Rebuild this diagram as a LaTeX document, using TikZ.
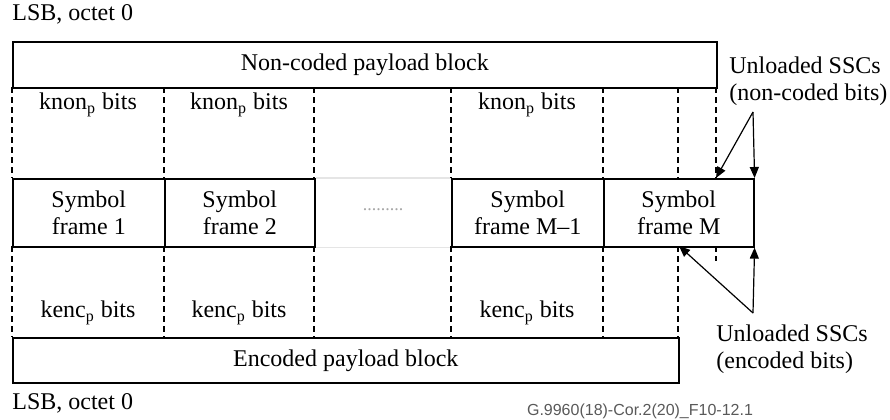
\documentclass[tikz,border=0pt]{standalone}
\usepackage{fontspec}
\setmainfont{Liberation Serif}
\newfontfamily\credfont{Liberation Sans}
\usetikzlibrary{arrows.meta, positioning}
\tikzset{
  blk/.style={draw, line width=0.8pt, inner sep=0pt, anchor=north west, align=center},
  sepline/.style={dash pattern=on 3pt off 2pt, line width=0.6pt},
  arr/.style={line width=0.6pt, -{Triangle[length=5.5pt,width=4.5pt]}},
  lbl/.style={inner sep=0pt, align=left}
}
\begin{document}
\begin{tikzpicture}[x=0.5pt, y=-0.5pt, font=\fontsize{12}{13.5}\selectfont]
        \useasboundingbox (0,0) rectangle (890,419);
        % Payload blocks
        \node[blk, minimum width=352pt, minimum height=23pt] (ncblk) at (12,41) {Non-coded payload block};
        \node[blk, minimum width=333pt, minimum height=22.5pt] (encblk) at (12,337) {Encoded payload block};
        % Symbol frames
        \node[blk, minimum width=76pt, minimum height=34pt] (sf1) at (12,178) {Symbol\\frame 1};
        \node[blk, minimum width=75pt, minimum height=34pt] (sf2) at (164,178) {Symbol\\frame 2};
        \node[blk, minimum width=76pt, minimum height=34pt] (sfm1) at (451,178) {Symbol\\frame M\textendash 1};
        \node[blk, minimum width=75pt, minimum height=34pt] (sfm) at (603,178) {Symbol\\frame M};
        % Gap between frames
        \draw[gray!20, line width=0.6pt] (sf2.north east) -- (sfm1.north west)
              (sf2.south east) -- (sfm1.south west);
        \node[font=\fontsize{9}{10}\selectfont, gray!70] (dots) at (383,210) {.........};
        % Bit boundaries
        \foreach \x in {12,164,314,451,603,678,716}
          \draw[sepline] (\x,87) -- (\x,178);
        \foreach \x in {12,164,314,451,603,678}
          \draw[sepline] (\x,246) -- (\x,337);
        \draw[sepline] (716,246) -- (716,261);
        % Bit labels
        \foreach \x/\n in {88/a,239/b,527/c} {
          \node[lbl] (knon\n) at (\x,105) {knon\textsubscript{p} bits};
          \node[lbl] (kenc\n) at (\x,313) {kenc\textsubscript{p} bits};
        }
        % LSB labels
        \node[lbl, anchor=west] (lsbtop) at (12,14) {LSB, octet 0};
        \node[lbl, anchor=west] (lsbbot) at (12,403) {LSB, octet 0};
        % Unloaded SSCs
        \node[lbl, anchor=north west] (ssctop) at (729,56) {Unloaded SSCs\\(non-coded bits)};
        \node[lbl, anchor=north west] (sscbot) at (716,324) {Unloaded SSCs\\(encoded bits)};
        \coordinate (atop) at (753,112);
        \coordinate (abot) at (753,313);
        \coordinate (tnc) at (716,178);
        \coordinate (tenc) at (679,246);
        \draw[arr] (atop) -- (tnc);
        \draw[arr] (atop) -- (sfm.north east);
        \draw[arr] (abot) -- (tenc);
        \draw[arr] (abot) -- (sfm.south east);
        % Figure reference
        \node[lbl, font=\credfont\fontsize{8}{9}\selectfont, gray!70!black] (figref) at (640,411) {G.9960(18)-Cor.2(20)\_F10-12.1};
\end{tikzpicture}
\end{document}
